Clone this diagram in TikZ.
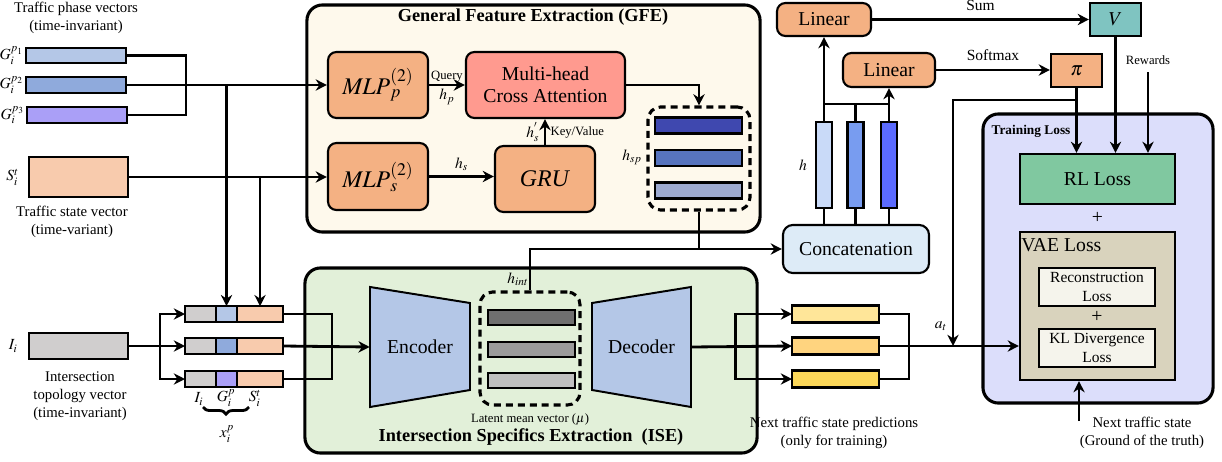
\documentclass[tikz,border=0pt]{standalone}
\usepackage{amsmath, amssymb}
\usepackage{mathptmx}
\usepackage{fontspec}
\setmainfont{Liberation Serif}
\newfontfamily\timesfont{Liberation Serif}
\usetikzlibrary{arrows.meta, positioning, decorations.pathreplacing}

\definecolor{gfeCream}{HTML}{FEF9EC}
\definecolor{iseGreen}{HTML}{E2F0D9}
\definecolor{lossBlue}{HTML}{DCDEFB}
\definecolor{mlpOrange}{HTML}{F4B183}
\definecolor{attnRed}{HTML}{FF9A8F}
\definecolor{tealV}{HTML}{7FC4C1}
\definecolor{concatBlue}{HTML}{DDEBF7}
\definecolor{rlGreen}{HTML}{80C8A0}
\definecolor{vaeTan}{HTML}{D9D3BD}
\definecolor{subLoss}{HTML}{F5F4EC}
\definecolor{phaseA}{HTML}{B4C7E7}
\definecolor{phaseB}{HTML}{8FAADC}
\definecolor{phaseC}{HTML}{AA9FF7}
\definecolor{statePeach}{HTML}{F8CBAD}
\definecolor{topoGray}{HTML}{D0CECE}
\definecolor{hspA}{HTML}{3F48AF}
\definecolor{hspB}{HTML}{5774BE}
\definecolor{hspC}{HTML}{9DAACF}
\definecolor{latA}{HTML}{6F6F6F}
\definecolor{latB}{HTML}{9B9B9B}
\definecolor{latC}{HTML}{C0C0C0}
\definecolor{hA}{HTML}{C9DAF8}
\definecolor{hB}{HTML}{789CF0}
\definecolor{hC}{HTML}{5B6BFF}
\definecolor{predA}{HTML}{FFE699}
\definecolor{predB}{HTML}{FFD47F}
\definecolor{predC}{HTML}{FCD85A}

\begin{document}
\begin{tikzpicture}[x=0.025cm, y=-0.025cm]
		\tikzstyle{Frame} = [rectangle, rounded corners=11pt, draw=black, line width=2.2pt]
		\tikzstyle{Block} = [rectangle, rounded corners=6pt, draw=black, line width=1.5pt, align=center, inner sep=0pt, fill=mlpOrange]
		\tikzstyle{PlainBox} = [rectangle, draw=black, line width=1.5pt, align=center, inner sep=0pt]
		\tikzstyle{Bar} = [rectangle, draw=black, line width=1.5pt, inner sep=0pt, outer sep=0pt, minimum width=2.175cm, minimum height=0.4cm]
		\tikzstyle{VBar} = [rectangle, draw=black, line width=1.5pt, inner sep=0pt, minimum width=0.4cm, minimum height=2.15cm]
		\tikzstyle{Seg} = [rectangle, draw=black, line width=1.5pt, inner sep=0pt, outer sep=0pt, minimum height=0.39cm]
		\tikzstyle{DashBox} = [rectangle, rounded corners=9pt, draw=black, line width=2.2pt, dash pattern=on 5pt off 3.5pt]
		\tikzstyle{Trap} = [draw=black, line width=1.4pt, fill=phaseA]
		\tikzstyle{arrow} = [line width=2pt, -{Stealth[length=8pt, width=8pt]}]
		\tikzstyle{line} = [line width=2pt]
		\tikzstyle{thinline} = [line width=1.7pt]
		\tikzstyle{Big} = [font=\timesfont\fontsize{14}{16}\selectfont]
		\tikzstyle{Huge} = [font=\timesfont\fontsize{17}{19}\selectfont]
		\tikzstyle{Mid} = [font=\timesfont\fontsize{11}{13}\selectfont]
		\tikzstyle{Lab} = [font=\timesfont\fontsize{10.5}{13}\selectfont, align=center, inner sep=1pt]
		\tikzstyle{Small} = [font=\timesfont\fontsize{9}{10}\selectfont, inner sep=1pt]
		\tikzstyle{Sym} = [font=\timesfont\fontsize{11}{13}\selectfont, inner sep=0pt]
		\tikzstyle{Title} = [font=\timesfont\fontsize{13}{15}\selectfont\bfseries, inner sep=1pt]

		\useasboundingbox (0,0) rectangle (1222,461);

		% containers
		\node (gfe) [Frame, fill=gfeCream, minimum width=11.325cm, minimum height=5.675cm] at (533.5,118.5) {};
		\node (ise) [Frame, fill=iseGreen, minimum width=11.3cm, minimum height=4.625cm] at (531,360.5) {};
		\node (train) [Frame, fill=lossBlue, minimum width=5.75cm, minimum height=7.225cm] at (1098,258.5) {};
		\node (gfeTitle) [Title] at (533,17) {General Feature Extraction (GFE)};
		\node (iseTitle) [Title] at (531,437) {Intersection Specifics Extraction\ \ (ISE)};
		\node (trainTitle) [font=\timesfont\fontsize{9.5}{11}\selectfont\bfseries, inner sep=1pt] at (1031,131) {Training Loss};

		% inputs
		\node (tpv) [Lab] at (76,18) {Traffic phase vectors\\(time-invariant)};
		\node (g1) [Bar, fill=phaseA, minimum width=2.5cm, minimum height=0.375cm] at (76,55.5) {};
		\node (g2) [Bar, fill=phaseB, minimum width=2.5cm, minimum height=0.4cm] at (76,85) {};
		\node (g3) [Bar, fill=phaseC, minimum width=2.5cm, minimum height=0.4cm] at (77,115) {};
		\node (g1Name) [Sym, left = 0.6mm of g1] {$G_i^{p_1}$};
		\node (g2Name) [Sym, left = 0.6mm of g2] {$G_i^{p_2}$};
		\node (g3Name) [Sym, left = 0.6mm of g3] {$G_i^{p_3}$};
		\node (st) [Bar, fill=statePeach, minimum width=2.475cm, minimum height=1cm] at (78.5,177) {};
		\node (stName) [Sym, left = 2.5mm of st] {$S_i^t$};
		\node (tsv) [Lab] at (72,222) {Traffic state vector\\(time-variant)};
		\node (ii) [Bar, fill=topoGray, minimum width=2.475cm, minimum height=0.65cm] at (78.5,346) {};
		\node (iiName) [Sym, left = 2.8mm of ii] {$I_i$};
		\node (itv) [Lab] at (80,396) {Intersection\\topology vector\\(time-invariant)};

		% concatenated inputs
		\node (r1i) [Seg, fill=topoGray, minimum width=0.775cm, anchor=west] at (185,314) {};
		\node (r1g) [Seg, fill=phaseA, minimum width=0.525cm, right = 0mm of r1i] {};
		\node (r1s) [Seg, fill=statePeach, minimum width=1.15cm, right = 0mm of r1g] {};
		\node (r2i) [Seg, fill=topoGray, minimum width=0.775cm, anchor=west] at (185,346) {};
		\node (r2g) [Seg, fill=phaseB, minimum width=0.525cm, right = 0mm of r2i] {};
		\node (r2s) [Seg, fill=statePeach, minimum width=1.15cm, right = 0mm of r2g] {};
		\node (r3i) [Seg, fill=topoGray, minimum width=0.775cm, anchor=west] at (185,379) {};
		\node (r3g) [Seg, fill=phaseC, minimum width=0.525cm, right = 0mm of r3i] {};
		\node (r3s) [Seg, fill=statePeach, minimum width=1.15cm, right = 0mm of r3g] {};
		\node (lbI) [Sym] at (199,399) {$I_i$};
		\node (lbG) [Sym] at (226,398) {$G_i^p$};
		\node (lbS) [Sym] at (255,398) {$S_i^t$};
		\node (xip) [Sym] at (227,434) {$x_i^p$};
		\draw[line, decorate, decoration={brace, mirror, amplitude=5pt}] (203,407) -- (249,407);

		% GFE
		\node (mlpp) [Block, Huge, minimum width=2.5cm, minimum height=1.65cm] at (378,85) {$\mathit{MLP}_p^{(2)}$};
		\node (mlps) [Block, Huge, minimum width=2.5cm, minimum height=1.675cm] at (378,176.5) {$\mathit{MLP}_s^{(2)}$};
		\node (mhca) [Block, Big, fill=attnRed, minimum width=3.975cm, minimum height=1.65cm] at (545.5,85) {Multi-head\\Cross Attention};
		\node (gru) [Block, Huge, minimum width=2.5cm, minimum height=1.65cm] at (545,179) {\textit{GRU}};
		\node (hsp) [DashBox, minimum width=2.55cm, minimum height=2.575cm] at (699,158.5) {};
		\node (s1) [Bar, fill=hspA] at (698.5,125.5) {};
		\node (s2) [Bar, fill=hspB] at (698.5,158) {};
		\node (s3) [Bar, fill=hspC] at (698.5,190.5) {};
		\node (hspName) [Sym] at (632,157) {$h_{sp}$};

		% ISE
		\draw[Trap] (370,287) -- (470,303) -- (470,390) -- (370,407) -- cycle;
		\draw[Trap] (592,303) -- (691,287) -- (691,407) -- (592,390) -- cycle;
		\node (enc) [Big, minimum width=2.5cm, minimum height=3cm, inner sep=0pt] at (420,347) {Encoder};
		\node (dec) [Big, minimum width=2.475cm, minimum height=3cm, inner sep=0pt] at (641.5,347) {Decoder};
		\node (lat) [DashBox, minimum width=2.5cm, minimum height=2.825cm] at (530,348.5) {};
		\node (l1) [Bar, fill=latA, minimum height=0.375cm] at (531.5,317.5) {};
		\node (l2) [Bar, fill=latB, minimum height=0.375cm] at (531.5,349.5) {};
		\node (l3) [Bar, fill=latC, minimum height=0.375cm] at (531.5,380.5) {};
		\node (hint) [Sym] at (518,279) {$h_{int}$};
		\node (latName) [Small] at (530,420) {Latent mean vector ($\mu$)};

		% predictions
		\node (y1) [Bar, fill=predA, minimum height=0.425cm] at (835.5,314) {};
		\node (y2) [Bar, fill=predB, minimum height=0.425cm] at (835.5,346) {};
		\node (y3) [Bar, fill=predC, minimum height=0.425cm] at (835.5,379) {};
		\node (nextPred) [Lab] at (834,433) {Next traffic state predictions\\(only for training)};

		% policy / value heads
		\node (concat) [Block, Big, fill=concatBlue, rounded corners=7pt, minimum width=3.65cm, minimum height=1.2cm] at (856,249) {Concatenation};
		\node (hb1) [VBar, fill=hA] at (824,165) {};
		\node (hb2) [VBar, fill=hB] at (855.5,165) {};
		\node (hb3) [VBar, fill=hC] at (889,165) {};
		\node (hName) [Sym] at (803,165) {$h$};
		\node (lin1) [Block, Big, minimum width=2.35cm, minimum height=0.825cm] at (824,19.5) {Linear};
		\node (lin2) [Block, Big, minimum width=2.3cm, minimum height=0.85cm] at (889,70) {Linear};
		\node (val) [PlainBox, Big, fill=tealV, minimum width=1.275cm, minimum height=0.825cm] at (1115.5,19.5) {$V$};
		\node (pol) [PlainBox, Big, fill=mlpOrange, minimum width=1.275cm, minimum height=0.825cm] at (1076.5,70.5) {$\pi$};
		\node (rew) [Small] at (1148,60) {Rewards};

		% losses
		\node (rl) [PlainBox, Big, fill=rlGreen, minimum width=3.875cm, minimum height=1.25cm] at (1097.5,179) {RL Loss};
		\node (plusA) [Big] at (1097.5,218) {+};
		\node (vae) [PlainBox, fill=vaeTan, minimum width=3.875cm, minimum height=3.7cm] at (1097.5,306) {};
		\node (vaeName) [Big, anchor=west, inner sep=0pt] at (1021,245) {VAE Loss};
		\node (recon) [PlainBox, Mid, fill=subLoss, minimum width=2.9cm, minimum height=0.95cm] at (1097,287) {Reconstruction\\Loss};
		\node (plusB) [Big] at (1097,317) {+};
		\node (kl) [PlainBox, Mid, fill=subLoss, minimum width=2.9cm, minimum height=0.95cm] at (1097,348) {KL Divergence\\Loss};
		\node (gt) [Lab] at (1142,433) {Next traffic state\\(Ground of the truth)};
		\coordinate (gtIn) at (1079,421);
		\coordinate (act) at (953,346);
		\node (actName) [Sym] at (941,326) {$a_t$};

		% connectors: inputs
		\draw[thinline] (g1.east) -- ++(60,0) |- (g3.east);
		\draw[arrow] (g2.east) -- (mlpp.west);
		\draw[arrow] (st.east) -- (st.east -| mlps.west);
		\draw[arrow] (g2.east -| r1g.north) -- (r1g.north);
		\draw[arrow] (st.east -| r1s.north) -- (r1s.north);
		\draw[line] (ii.east) -- ++(32,0) coordinate (iJoin);
		\draw[arrow] (iJoin) |- (r1i.west);
		\draw[arrow] (iJoin) |- (r3i.west);
		\draw[arrow] (ii.east) -- (r2i.west);
		\draw[thinline] (r1s.east) -- ++(49,0) |- (r3s.east);
		\draw[arrow] (r2s.east) -- (enc.west);

		% connectors: GFE
		\draw[arrow] (mlpp) -- node[above, Small] {Query} node[below, Sym, inner sep=2pt] {$h_p$} (mhca);
		\draw[arrow] (mlps.east) -- node[above, Sym, inner sep=3pt] {$h_s$} (mlps.east -| gru.west);
		\draw[arrow] (gru.north) -- node[left, Sym, inner sep=3pt] {$h_s^{'}$} node[right, Small, inner sep=3pt] {Key/Value} (gru.north |- mhca.south);
		\draw[arrow] (mhca.east) -| (hsp.north);

		% connectors: ISE and predictions
		\draw[line] (hsp.south) -- (hsp.south |- concat.west);
		\draw[arrow] (lat.north) |- (concat.west);
		\path (dec.east) ++(44,0) coordinate (dJoin);
		\draw[arrow] (dJoin) |- (y1.west);
		\draw[arrow] (dJoin) |- (y3.west);
		\draw[arrow] (dec.east) -- (y2.west);
		\draw[thinline] (y1.east) -- ++(30,0) |- (y3.east);
		\draw[arrow] (y2.east) -- (y2.east -| vae.west);

		% connectors: heads
		\draw[thinline] (hb1.south) -- (hb1.south |- concat.north);
		\draw[thinline] (hb2.south) -- (hb2.south |- concat.north);
		\draw[thinline] (hb3.south) -- (hb3.south |- concat.north);
		\draw[thinline] (hb2.north) -- ++(0,-17) coordinate (hJoin);
		\draw[thinline] (hb1.north |- hJoin) -- (hb3.north |- hJoin);
		\draw[arrow] (hb1.north) -- (lin1.south);
		\draw[arrow] (hb3.north) -- (lin2.south);
		\draw[arrow] (lin1.east) -- node[above=2pt, Mid] {Sum} (val.west);
		\draw[arrow] (lin2.east) -- node[above=2pt, Mid] {Softmax} (pol.west |- lin2.east);
		\path (pol.south) ++(0,12) coordinate (pJoin);
		\draw[arrow] (pJoin) -| (act);
		\draw[arrow] (pol.south) -- (pol.south |- rl.north);
		\draw[arrow] (val.south) -- (val.south |- rl.north);
		\draw[arrow] (rew.south) ++(0,6) -- (rew.south |- rl.north);
		\draw[arrow] (gtIn) -- (gtIn |- vae.south);
\end{tikzpicture}
\end{document}
